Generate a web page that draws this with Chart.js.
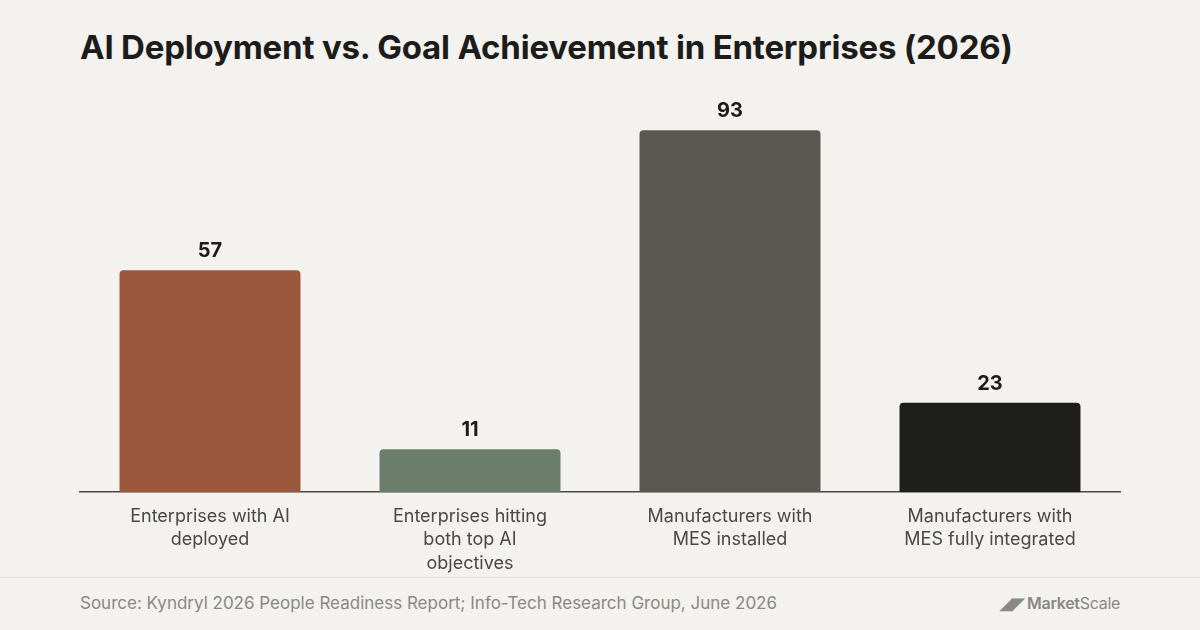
<!DOCTYPE html>
<html>
<head>
<meta charset="utf-8">
<script src="https://cdn.jsdelivr.net/npm/chart.js@4"></script>
<style>
  body { margin: 0; background: #f4f2ee; font-family: Inter, "Open Sans", sans-serif; }
  #page { position: relative; width: 1200px; height: 630px; overflow: hidden; }
  h1 { position: absolute; left: 80px; top: 27px; margin: 0; font-size: 33px; font-weight: 700; color: #1c1c1a; letter-spacing: -0.2px; }
  #wrap { position: absolute; left: 70px; top: 90px; width: 1060px; height: 490px; }
  #rule { position: absolute; left: 0; right: 0; top: 577px; border-top: 1px solid #e2dfd9; }
  #source { position: absolute; left: 80px; top: 593px; font-size: 17px; color: #8a8884; }
  #logo { position: absolute; right: 80px; top: 593px; font-size: 16px; color: #8a8884; font-weight: 600; letter-spacing: -0.3px; }
</style>
</head>
<body>
<div id="page">
  <h1>AI Deployment vs. Goal Achievement in Enterprises (2026)</h1>
  <div id="wrap"><canvas id="chart"></canvas></div>
  <div id="rule"></div>
  <div id="source">Source: Kyndryl 2026 People Readiness Report; Info-Tech Research Group, June 2026</div>
  <div id="logo">◢◤ Market<span style="font-weight:400">Scale</span></div>
</div>
<script>
// Chart data
const categories = [
  ["Enterprises with AI", "deployed"],
  ["Enterprises hitting", "both top AI", "objectives"],
  ["Manufacturers with", "MES installed"],
  ["Manufacturers with", "MES fully integrated"]
];
const values = [57, 11, 93, 23];
const barColors = ["#9a573b", "#6b7d6b", "#5a5650", "#1e1e1c"];

// Draws the value above each bar
const valueLabels = {
  id: "valueLabels",
  afterDatasetsDraw(chart) {
    const ctx = chart.ctx;
    const meta = chart.getDatasetMeta(0);
    ctx.save();
    ctx.font = "700 20px Inter, sans-serif";
    ctx.fillStyle = "#1c1c1a";
    ctx.textAlign = "center";
    ctx.textBaseline = "bottom";
    meta.data.forEach((bar, i) => {
      ctx.fillText(values[i], bar.x, bar.y - 9);
    });
    ctx.restore();
  }
};

new Chart(document.getElementById("chart"), {
  type: "bar",
  data: {
    labels: categories,
    datasets: [{
      data: values,
      backgroundColor: barColors,
      borderRadius: 4,
      borderSkipped: "bottom",
      categoryPercentage: 1,
      barPercentage: 0.696
    }]
  },
  options: {
    responsive: true,
    maintainAspectRatio: false,
    animation: false,
    layout: { padding: { top: 13, left: 10, right: 10, bottom: 0 } },
    plugins: { legend: { display: false }, tooltip: { enabled: false } },
    scales: {
      x: {
        grid: { display: false },
        border: { display: true, color: "#4a4844", width: 1.5 },
        ticks: { color: "#4a4844", font: { size: 18, family: "Inter, sans-serif", lineHeight: 1.33 }, padding: 4, maxRotation: 0 }
      },
      y: {
        display: false,
        min: 0,
        max: 100
      }
    }
  },
  plugins: [valueLabels]
});
</script>
</body>
</html>
